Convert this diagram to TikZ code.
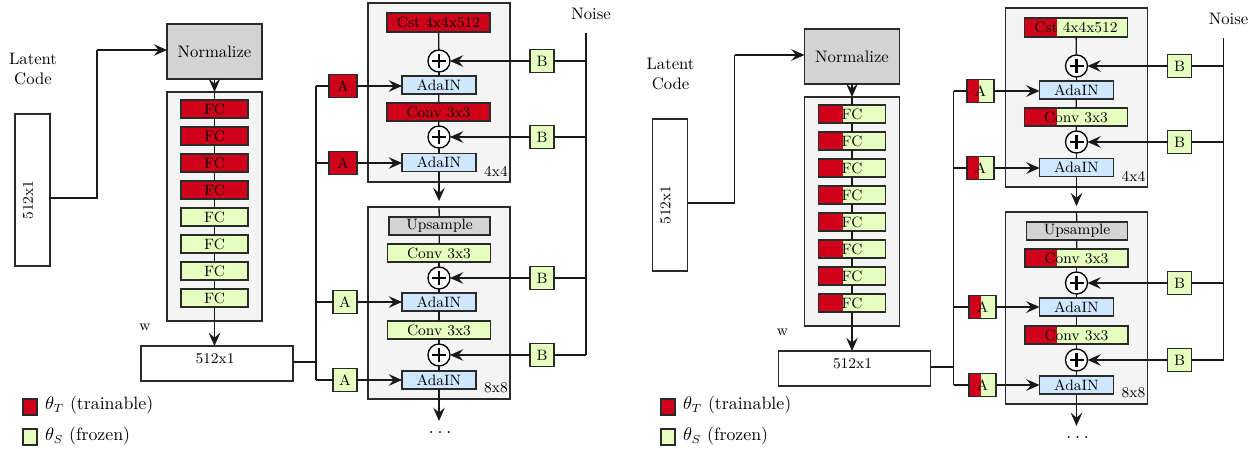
\documentclass[tikz,border=0pt]{standalone}
\usetikzlibrary{arrows.meta}
\definecolor{tred}{HTML}{D0021B}
\definecolor{fgreen}{HTML}{E6FFC0}
\definecolor{ablue}{HTML}{D0E8FF}
\definecolor{ngray}{HTML}{D3D3D3}
\definecolor{bgray}{HTML}{F4F4F4}
\definecolor{edge}{HTML}{2A2A2A}
\tikzset{
  every node/.style={inner sep=0pt, outer sep=0pt},
  wh/.style 2 args={minimum width={#1*0.6pt}, minimum height={#2*0.6pt}},
  ln/.style={line width=0.8pt, draw=black!90},
  arr/.style={ln, -{Stealth[length=8pt,width=7pt,inset=3pt]}},
  bx/.style={draw=edge, line width=0.7pt, rectangle, font=\fontsize{9}{10}\selectfont},
  redbx/.style={bx, fill=tred},
  grnbx/.style={bx, fill=fgreen},
  splitbx/.style={bx, fill=fgreen, path picture={\fill[tred] (path picture bounding box.south west) rectangle ([xshift=#1]path picture bounding box.north west);}},
  bluebx/.style={bx, fill=ablue},
  graybx/.style={bx, fill=ngray},
  blockbx/.style={draw=edge, line width=0.7pt, fill=bgray, rectangle},
  plusc/.style={circle, draw=black, line width=0.8pt, fill=white, minimum size=13.2pt,
    path picture={\draw[line width=1.6pt] ([yshift=-4.2pt]path picture bounding box.center) -- ([yshift=4.2pt]path picture bounding box.center) ([xshift=-4.2pt]path picture bounding box.center) -- ([xshift=4.2pt]path picture bounding box.center);}},
  txt/.style={font=\fontsize{10}{12}\selectfont},
  stxt/.style={font=\fontsize{9}{10}\selectfont},
  lgtxt/.style={font=\fontsize{10.7}{13}\selectfont, anchor=west},
}
% #1 prefix
\newcommand{\stylegan}[1]{%
  \node[txt, align=center] (#1lat) at (33,69) {Latent\\Code};
  \node[bx, fill=white, wh={35}{152}] (#1vin) at (32.5,190) {};
  \node[stxt, rotate=90] (#1vint) at (28,200) {512x1};
  \node[graybx, txt, wh={95}{55}] (#1norm) at (214.5,51.5) {Normalize};
  \node[blockbx, wh={95}{229}] (#1map) at (214.5,206.5) {};
  \foreach \i in {1,...,4}{
    \node[sFCa, wh={67}{18}] (#1fc\i) at (214.5,{109+27*(\i-1)}) {FC};}
  \foreach \i in {5,...,8}{
    \node[sFCb, wh={67}{18}] (#1fc\i) at (214.5,{109+27*(\i-1)}) {FC};}
  \node[stxt] (#1wl) at (145,327) {w};
  \node[bx, fill=white, wh={152}{35}] (#1w) at (217,363.5) {};
  \node[stxt] (#1wt) at (215,359) {512x1};
  % synthesis block 1
  \node[blockbx, wh={142}{179}] (#1b1) at (439,92.5) {};
  \node[sCst, wh={103}{19}] (#1cst) at (438.5,22.5) {Cst 4x4x512};
  \node[plusc] (#1p1) at (439,61) {};
  \node[bluebx, wh={74}{18}] (#1ada1) at (439,85) {AdaIN};
  \node[sConvA, wh={103}{18}] (#1conv1) at (438.5,112) {Conv 3x3};
  \node[plusc] (#1p2) at (439,137) {};
  \node[bluebx, wh={74}{18}] (#1ada2) at (439,162.5) {AdaIN};
  \node[stxt] (#1l4) at (496,171) {4x4};
  % synthesis block 2
  \node[blockbx, wh={142}{192}] (#1b2) at (439,303) {};
  \node[graybx, wh={101}{18}] (#1ups) at (439.5,226) {Upsample};
  \node[sConvB, wh={103}{18}] (#1conv2) at (439,253) {Conv 3x3};
  \node[plusc] (#1p3) at (439,278) {};
  \node[bluebx, wh={74}{18}] (#1ada3) at (439,302) {AdaIN};
  \node[sConvB, wh={103}{18}] (#1conv3) at (439,330) {Conv 3x3};
  \node[plusc] (#1p4) at (439,355) {};
  \node[bluebx, wh={74}{18}] (#1ada4) at (439,380) {AdaIN};
  \node[stxt] (#1l8) at (496,388) {8x8};
  \coordinate (#1end) at (439,421);
  \node[font=\fontsize{12}{14}\selectfont] (#1dots) at (440,433) {$\ldots$};
  % A boxes
  \node[sAa] (#1a1) at (343,86) {A};
  \node[sAa] (#1a2) at (343,163) {A};
  \node[sAb] (#1a3) at (345,302) {A};
  \node[sAb] (#1a4) at (345,380) {A};
  % B boxes
  \foreach \n/\y in {1/61,2/137,3/278,4/355}{
    \node[grnbx, wh={24}{23}] (#1bb\n) at (542,\y) {B};}
  \node[txt] (#1noise) at (591,14) {Noise};
  \coordinate (#1ntop) at (586,33);
  \coordinate (#1nbot) at (586,355);
  % bus
  \coordinate (#1bt) at (316,86);
  \coordinate (#1bb) at (316,380);
  \coordinate (#1bj) at (316,362);
  % connectors
  \draw[ln] (#1vin.east |- 0,198) -- (97,198) -- (97,50) coordinate (#1k);
  \draw[arr] (#1k) -- (#1k -| #1norm.west);
  \draw[arr] (#1norm) -- (#1map.north);
  \draw[ln] (#1map.north) -- (#1fc1);
  \foreach \i/\j in {1/2,2/3,3/4,4/5,5/6,6/7,7/8}{
    \draw[ln] (#1fc\i) -- (#1fc\j);}
  \draw[arr] (#1fc8) -- (#1fc8 |- #1w.north);
  \draw[ln] (#1w.east |- #1bj) -- (#1bj);
  \draw[ln] (#1bt) -- (#1bb);
  \foreach \n in {1,...,4}{
    \draw[ln] (#1a\n.west -| #1bt) -- (#1a\n.west);}
  \draw[arr] (#1a1) -- (#1a1 -| #1ada1.west);
  \draw[arr] (#1a2) -- (#1a2 -| #1ada2.west);
  \draw[arr] (#1a3) -- (#1a3 -| #1ada3.west);
  \draw[arr] (#1a4) -- (#1a4 -| #1ada4.west);
  \draw[ln] (#1ntop) -- (#1nbot);
  \foreach \n in {1,...,4}{
    \draw[ln] (#1bb\n.east) -- (#1bb\n.east -| #1ntop);
    \draw[arr] (#1bb\n) -- (#1p\n);}
  \draw[ln] (#1cst) -- (#1p1);
  \draw[ln] (#1p1) -- (#1ada1);
  \draw[ln] (#1ada1) -- (#1conv1);
  \draw[ln] (#1conv1) -- (#1p2);
  \draw[ln] (#1p2) -- (#1ada2);
  \draw[arr] (#1ada2) -- ([yshift=3.5pt]#1b2.north);
  \draw[ln] (#1b2.north) -- (#1ups);
  \draw[ln] (#1ups) -- (#1conv2);
  \draw[ln] (#1conv2) -- (#1p3);
  \draw[ln] (#1p3) -- (#1ada3);
  \draw[ln] (#1ada3) -- (#1conv3);
  \draw[ln] (#1conv3) -- (#1p4);
  \draw[ln] (#1p4) -- (#1ada4);
  \draw[arr] (#1ada4) -- (#1end);
}
\begin{document}
\begin{tikzpicture}[x=0.6pt,y=-0.6pt]
\useasboundingbox (0,0) rectangle (1258,448);
\begin{scope}[
  sFCa/.style={redbx}, sFCb/.style={grnbx}, sCst/.style={redbx},
  sConvA/.style={redbx}, sConvB/.style={grnbx},
  sAa/.style={redbx, wh={28}{23}}, sAb/.style={grnbx, wh={24}{23}}]
\stylegan{L}
\end{scope}
\begin{scope}[shift={(637.5,5)},
  sFCa/.style={splitbx=14.4pt}, sFCb/.style={splitbx=14.4pt}, sCst/.style={splitbx=19.2pt},
  sConvA/.style={splitbx=19.2pt}, sConvB/.style={splitbx=19.2pt},
  sAa/.style={splitbx=7.2pt, wh={27}{23}}, sAb/.style={splitbx=7.2pt, wh={27}{23}}]
\stylegan{R}
\end{scope}
% legends
\node[redbx, wh={14}{16}] (lr1) at (30,407) {};
\node[lgtxt] (lt1) at (45,405) {$\theta_T$ (trainable)};
\node[grnbx, wh={14}{16}] (lg1) at (30,437) {};
\node[lgtxt] (lt2) at (45,436) {$\theta_S$ (frozen)};
\node[redbx, wh={14}{16}] (lr2) at (668,407) {};
\node[lgtxt] (lt3) at (683,405) {$\theta_T$ (trainable)};
\node[grnbx, wh={14}{16}] (lg2) at (668,437) {};
\node[lgtxt] (lt4) at (683,436) {$\theta_S$ (frozen)};
\end{tikzpicture}
\end{document}
